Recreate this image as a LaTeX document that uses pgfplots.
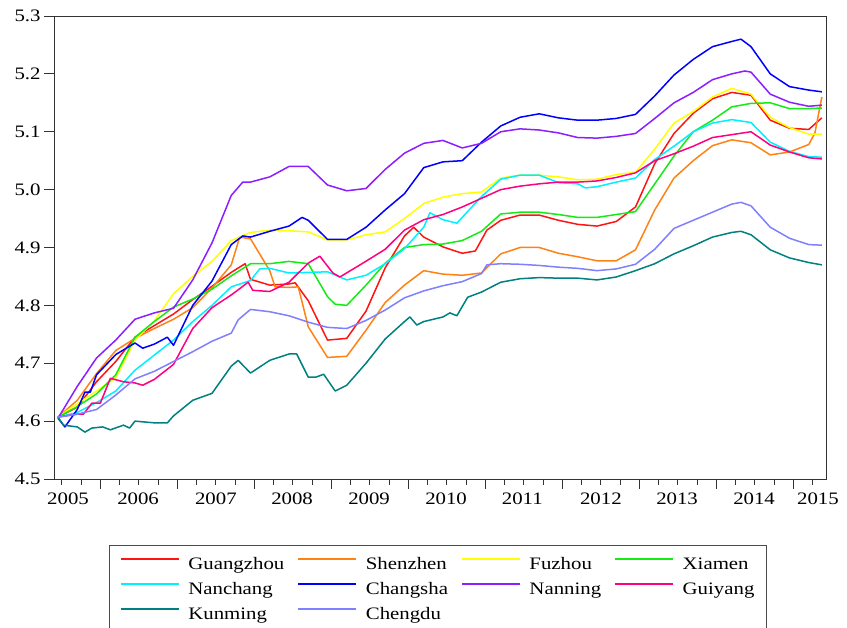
\documentclass[border=0pt]{standalone}
\usepackage{fontspec}
\setmainfont{Liberation Serif}[FakeStretch=1.19]
\usepackage{pgfplots}
\pgfplotsset{compat=1.18}
\definecolor{cgz}{RGB}{255,20,20}
\definecolor{csz}{RGB}{255,130,20}
\definecolor{cfz}{RGB}{255,255,0}
\definecolor{cxm}{RGB}{20,235,20}
\definecolor{cnc}{RGB}{0,240,255}
\definecolor{ccs}{RGB}{0,0,255}
\definecolor{cnn}{RGB}{140,30,255}
\definecolor{cgy}{RGB}{255,0,128}
\definecolor{ckm}{RGB}{0,128,128}
\definecolor{ccd}{RGB}{128,128,255}
\begin{document}
\begin{tikzpicture}
\useasboundingbox (0,0) rectangle (847pt,628pt);
\fill[white] (0,0) rectangle (847pt,628pt);
\begin{axis}[
  at={(54pt,149pt)}, anchor=south west,
  width=772pt, height=463pt, scale only axis,
  xmin=2004.948, xmax=2014.974, ymin=4.5, ymax=5.3,
  ytick={4.5,4.6,4.7,4.8,4.9,5.0,5.1,5.2,5.3},
  yticklabel style={/pgf/number format/.cd, fixed, fixed zerofill, precision=1},
  /pgf/number format/assume math mode=true,
  xtick={2005.55,2006.55,2007.55,2008.55,2009.55,2010.55,2011.55,2012.55,2013.55,2014.55},
  xticklabels={},
  minor xtick={2005.05,2005.30,...,2014.81},
  extra x ticks={2005.13,2006.04,2007.05,2008.04,2009.04,2010.04,2011.03,2012.05,2013.04,2014.04,2014.87},
  extra x tick labels={2005,2006,2007,2008,2009,2010,2011,2012,2013,2014,2015},
  extra x tick style={tick style={draw=none}},
  tick align=outside, xtick pos=bottom, ytick pos=left,
  major tick length=10pt, minor tick length=6pt,
  tick style={black!80, line width=0.9pt},
  axis line style={black!80, line width=0.9pt},
  tick label style={font=\fontsize{17.5}{21}\selectfont},
  legend columns=4,
  legend cell align=left,
  legend image code/.code={\draw[#1] (0pt,6.5pt) -- (58pt,6.5pt); \path (-3.5pt,6.5pt) (62.5pt,6.5pt);},
  legend style={at={(0.0712,-0.1425)}, anchor=north west, draw=black!70, line width=0.8pt,
    font=\fontsize{17.5}{21}\selectfont,
    inner xsep=7pt, inner ysep=10pt, row sep=4.5pt,
    nodes={inner xsep=4.5pt, inner ysep=2pt, text height=12.5pt, text depth=4pt},
    /tikz/every even column/.append style={column sep=5pt}},
  every axis plot/.append style={line width=1.5pt, line join=round},
]
\addplot[cgz] coordinates {(2005.00,4.607)(2005.25,4.624)(2005.50,4.668)(2005.75,4.703)(2006.00,4.745)(2006.25,4.765)(2006.50,4.785)(2006.75,4.81)(2007.00,4.833)(2007.25,4.857)(2007.43,4.872)(2007.50,4.845)(2007.75,4.835)(2008.00,4.837)(2008.08,4.839)(2008.25,4.808)(2008.50,4.74)(2008.75,4.743)(2009.00,4.79)(2009.25,4.865)(2009.50,4.92)(2009.62,4.935)(2009.75,4.918)(2010.00,4.901)(2010.25,4.89)(2010.42,4.894)(2010.57,4.93)(2010.75,4.947)(2011.00,4.956)(2011.25,4.956)(2011.50,4.947)(2011.75,4.94)(2012.00,4.937)(2012.25,4.945)(2012.50,4.97)(2012.75,5.045)(2013.00,5.097)(2013.25,5.132)(2013.50,5.157)(2013.75,5.168)(2014.00,5.163)(2014.25,5.12)(2014.50,5.106)(2014.75,5.104)(2014.92,5.124)};
\addlegendentry{Guangzhou}
\addplot[csz] coordinates {(2005.00,4.607)(2005.25,4.636)(2005.50,4.682)(2005.75,4.722)(2006.00,4.743)(2006.25,4.76)(2006.50,4.776)(2006.75,4.796)(2007.00,4.83)(2007.25,4.87)(2007.36,4.918)(2007.50,4.915)(2007.75,4.86)(2007.82,4.832)(2008.00,4.831)(2008.12,4.832)(2008.25,4.763)(2008.50,4.71)(2008.75,4.712)(2009.00,4.757)(2009.25,4.805)(2009.50,4.835)(2009.75,4.86)(2010.00,4.854)(2010.25,4.852)(2010.50,4.856)(2010.75,4.889)(2011.00,4.9)(2011.25,4.9)(2011.50,4.89)(2011.75,4.884)(2012.00,4.877)(2012.25,4.877)(2012.50,4.896)(2012.75,4.965)(2013.00,5.02)(2013.25,5.05)(2013.50,5.076)(2013.75,5.086)(2014.00,5.081)(2014.25,5.06)(2014.50,5.065)(2014.75,5.078)(2014.83,5.098)(2014.92,5.16)};
\addlegendentry{Shenzhen}
\addplot[cfz] coordinates {(2005.00,4.607)(2005.25,4.63)(2005.50,4.652)(2005.75,4.675)(2006.00,4.74)(2006.25,4.773)(2006.50,4.82)(2006.75,4.85)(2007.00,4.876)(2007.25,4.912)(2007.50,4.926)(2007.75,4.93)(2008.00,4.929)(2008.25,4.927)(2008.50,4.913)(2008.75,4.913)(2009.00,4.922)(2009.25,4.927)(2009.50,4.95)(2009.75,4.976)(2010.00,4.987)(2010.25,4.993)(2010.50,4.996)(2010.75,5.02)(2011.00,5.025)(2011.25,5.025)(2011.50,5.022)(2011.75,5.017)(2012.00,5.018)(2012.25,5.026)(2012.50,5.03)(2012.75,5.07)(2013.00,5.115)(2013.25,5.135)(2013.50,5.16)(2013.75,5.175)(2014.00,5.165)(2014.25,5.125)(2014.50,5.107)(2014.75,5.096)(2014.92,5.096)};
\addlegendentry{Fuzhou}
\addplot[cxm] coordinates {(2005.00,4.607)(2005.25,4.625)(2005.50,4.647)(2005.75,4.68)(2006.00,4.745)(2006.25,4.772)(2006.50,4.797)(2006.75,4.811)(2007.00,4.828)(2007.25,4.851)(2007.50,4.872)(2007.75,4.872)(2008.00,4.876)(2008.25,4.872)(2008.50,4.815)(2008.60,4.802)(2008.75,4.80)(2009.00,4.835)(2009.25,4.873)(2009.50,4.9)(2009.75,4.905)(2010.00,4.906)(2010.25,4.912)(2010.50,4.928)(2010.75,4.958)(2011.00,4.961)(2011.25,4.961)(2011.50,4.957)(2011.75,4.952)(2012.00,4.952)(2012.25,4.957)(2012.50,4.962)(2012.75,5.01)(2013.00,5.058)(2013.25,5.1)(2013.50,5.12)(2013.75,5.143)(2014.00,5.149)(2014.25,5.15)(2014.50,5.14)(2014.75,5.14)(2014.92,5.141)};
\addlegendentry{Xiamen}
\addplot[cnc] coordinates {(2005.00,4.607)(2005.25,4.615)(2005.50,4.632)(2005.75,4.652)(2006.00,4.688)(2006.25,4.714)(2006.50,4.74)(2006.75,4.772)(2007.00,4.80)(2007.25,4.832)(2007.50,4.843)(2007.62,4.863)(2007.75,4.864)(2008.00,4.856)(2008.25,4.857)(2008.50,4.858)(2008.75,4.844)(2009.00,4.852)(2009.25,4.872)(2009.50,4.898)(2009.75,4.935)(2009.83,4.96)(2010.00,4.948)(2010.18,4.942)(2010.25,4.952)(2010.50,4.988)(2010.75,5.018)(2011.00,5.025)(2011.25,5.025)(2011.50,5.012)(2011.75,5.01)(2011.85,5.003)(2012.00,5.005)(2012.25,5.013)(2012.50,5.02)(2012.75,5.052)(2013.00,5.075)(2013.25,5.1)(2013.50,5.115)(2013.75,5.121)(2014.00,5.116)(2014.25,5.082)(2014.50,5.066)(2014.75,5.057)(2014.92,5.056)};
\addlegendentry{Nanchang}
\addplot[ccs] coordinates {(2005.00,4.605)(2005.09,4.59)(2005.25,4.62)(2005.35,4.65)(2005.42,4.65)(2005.50,4.68)(2005.75,4.715)(2006.00,4.735)(2006.10,4.726)(2006.25,4.733)(2006.42,4.745)(2006.50,4.731)(2006.75,4.80)(2007.00,4.842)(2007.25,4.905)(2007.40,4.92)(2007.50,4.918)(2007.75,4.928)(2008.00,4.937)(2008.17,4.952)(2008.25,4.947)(2008.50,4.914)(2008.75,4.914)(2009.00,4.935)(2009.25,4.965)(2009.50,4.993)(2009.75,5.038)(2010.00,5.048)(2010.25,5.05)(2010.50,5.082)(2010.75,5.11)(2011.00,5.125)(2011.25,5.131)(2011.50,5.124)(2011.75,5.12)(2012.00,5.12)(2012.25,5.123)(2012.50,5.13)(2012.75,5.162)(2013.00,5.198)(2013.25,5.225)(2013.50,5.247)(2013.75,5.256)(2013.87,5.26)(2014.00,5.247)(2014.25,5.2)(2014.50,5.178)(2014.75,5.172)(2014.92,5.169)};
\addlegendentry{Changsha}
\addplot[cnn] coordinates {(2005.00,4.605)(2005.25,4.66)(2005.50,4.709)(2005.75,4.74)(2006.00,4.776)(2006.25,4.787)(2006.50,4.795)(2006.75,4.844)(2007.00,4.908)(2007.25,4.99)(2007.40,5.013)(2007.50,5.013)(2007.75,5.022)(2008.00,5.04)(2008.25,5.04)(2008.50,5.008)(2008.75,4.998)(2009.00,5.002)(2009.25,5.035)(2009.50,5.063)(2009.75,5.08)(2010.00,5.085)(2010.25,5.072)(2010.50,5.08)(2010.75,5.10)(2011.00,5.105)(2011.25,5.103)(2011.50,5.098)(2011.75,5.09)(2012.00,5.089)(2012.25,5.092)(2012.50,5.097)(2012.75,5.123)(2013.00,5.15)(2013.25,5.168)(2013.50,5.19)(2013.75,5.20)(2013.92,5.205)(2014.00,5.203)(2014.25,5.165)(2014.50,5.151)(2014.75,5.144)(2014.92,5.146)};
\addlegendentry{Nanning}
\addplot[cgy] coordinates {(2005.00,4.607)(2005.25,4.612)(2005.33,4.612)(2005.44,4.631)(2005.55,4.631)(2005.68,4.674)(2005.85,4.668)(2006.00,4.666)(2006.10,4.662)(2006.25,4.672)(2006.50,4.698)(2006.75,4.76)(2007.00,4.796)(2007.25,4.818)(2007.47,4.84)(2007.53,4.826)(2007.75,4.824)(2008.00,4.84)(2008.25,4.873)(2008.40,4.885)(2008.57,4.856)(2008.66,4.849)(2008.96,4.873)(2009.25,4.897)(2009.50,4.93)(2009.75,4.948)(2010.00,4.957)(2010.25,4.97)(2010.50,4.985)(2010.75,5.0)(2011.00,5.006)(2011.25,5.01)(2011.50,5.013)(2011.75,5.013)(2012.00,5.015)(2012.25,5.021)(2012.50,5.029)(2012.75,5.05)(2013.00,5.062)(2013.25,5.075)(2013.50,5.09)(2013.75,5.095)(2014.00,5.1)(2014.25,5.077)(2014.50,5.065)(2014.75,5.055)(2014.92,5.053)};
\addlegendentry{Guiyang}
\addplot[ckm] coordinates {(2005.00,4.607)(2005.07,4.593)(2005.25,4.59)(2005.35,4.581)(2005.44,4.588)(2005.58,4.59)(2005.68,4.585)(2005.85,4.593)(2005.93,4.588)(2006.00,4.60)(2006.25,4.597)(2006.42,4.597)(2006.50,4.609)(2006.75,4.636)(2007.00,4.648)(2007.25,4.695)(2007.34,4.705)(2007.50,4.683)(2007.75,4.705)(2008.00,4.716)(2008.10,4.716)(2008.25,4.676)(2008.35,4.676)(2008.45,4.681)(2008.60,4.652)(2008.75,4.662)(2009.00,4.70)(2009.25,4.742)(2009.50,4.772)(2009.57,4.78)(2009.66,4.766)(2009.75,4.772)(2010.00,4.78)(2010.09,4.787)(2010.18,4.782)(2010.32,4.814)(2010.50,4.823)(2010.75,4.84)(2011.00,4.846)(2011.25,4.848)(2011.50,4.847)(2011.75,4.847)(2012.00,4.844)(2012.25,4.849)(2012.50,4.86)(2012.75,4.872)(2013.00,4.889)(2013.25,4.903)(2013.50,4.918)(2013.75,4.926)(2013.87,4.928)(2014.00,4.922)(2014.25,4.896)(2014.50,4.882)(2014.75,4.874)(2014.92,4.87)};
\addlegendentry{Kunming}
\addplot[ccd] coordinates {(2005.00,4.607)(2005.25,4.612)(2005.50,4.62)(2005.75,4.645)(2006.00,4.673)(2006.25,4.686)(2006.50,4.703)(2006.75,4.72)(2007.00,4.738)(2007.25,4.752)(2007.34,4.775)(2007.50,4.793)(2007.75,4.789)(2008.00,4.782)(2008.25,4.771)(2008.50,4.762)(2008.75,4.76)(2009.00,4.774)(2009.25,4.792)(2009.50,4.813)(2009.75,4.825)(2010.00,4.834)(2010.25,4.841)(2010.50,4.855)(2010.57,4.87)(2010.75,4.872)(2011.00,4.871)(2011.25,4.869)(2011.50,4.866)(2011.75,4.864)(2012.00,4.86)(2012.25,4.863)(2012.50,4.871)(2012.75,4.897)(2013.00,4.933)(2013.25,4.947)(2013.50,4.961)(2013.75,4.975)(2013.87,4.978)(2014.00,4.972)(2014.25,4.935)(2014.50,4.916)(2014.75,4.905)(2014.92,4.904)};
\addlegendentry{Chengdu}
\end{axis}
\end{tikzpicture}
\end{document}
